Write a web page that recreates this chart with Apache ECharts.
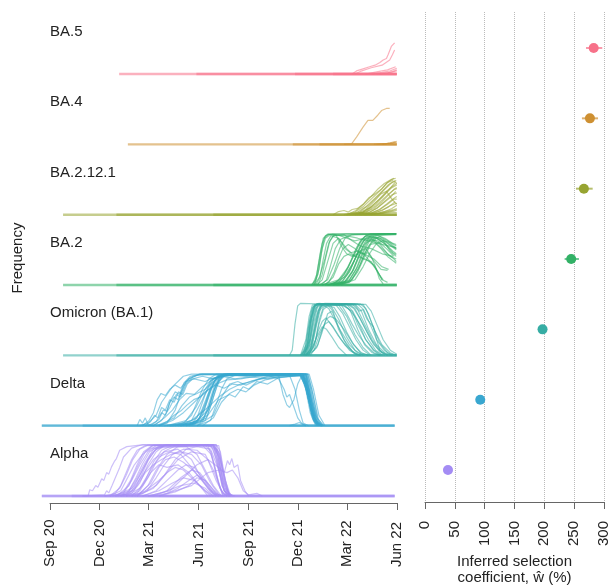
<!DOCTYPE html>
<html><head><meta charset="utf-8">
<script src="https://cdn.jsdelivr.net/npm/echarts@6/dist/echarts.min.js"></script>
<style>html,body{margin:0;padding:0;background:#fff}#c{width:611px;height:586px}</style>
</head><body><div id="c"></div>
<script>
// ---------- data ----------
const variants = ['Alpha', 'Delta', 'Omicron (BA.1)', 'BA.2', 'BA.2.12.1', 'BA.4', 'BA.5'];
const colors   = ['#a48cf4', '#39a7d0', '#36ada4', '#32b166', '#97a431', '#ce9032', '#f77189'];
// time axis: days since 2020-09-01
const tickDays   = [0, 91, 181, 273, 365, 456, 546, 638];
const tickLabels = ['Sep 20', 'Dec 20', 'Mar 21', 'Jun 21', 'Sep 21', 'Dec 21', 'Mar 22', 'Jun 22'];
// inferred selection coefficient (%) with interval
const coef   = [38.5, 92.6, 197, 245, 266.3, 276.4, 282.7];
const coefLo = [36.5, 90, 191, 234, 253, 263, 269.8];
const coefHi = [40.5, 95, 203, 258, 281, 290, 297.1];

// frequency at zero: spans [start, end] of countries' series (days)
const alphaBase   = [[-15, 633], [-15, 633], [40, 633]];
const deltaBase   = [[-15, 633], [-15, 633], [60, 633]];
const omicronBase = [[24, 637], [122, 637], [300, 637]];
const ba2Base     = [[24, 637], [122, 637], [300, 637]];
const ba2121Base  = [[24, 637], [122, 637], [300, 637]];
const ba4Base     = [[143, 637], [446, 637], [495, 637]];
const ba5Base     = [[127, 637], [269, 637], [450, 637], [520, 637]];

// per-country frequency trajectories [day, frequency]
const alphaCurves = [
  [[60,0],[70,0],[73,0.12],[78,0.1],[84,0.2],[88,0.17],[95,0.33],[99,0.3],[104,0.45],[108,0.42],[113,0.56],[118,0.66],[122,0.72],[128,0.88],[141,0.95],[165,0.98],[240,0.99],[290,0.99],[305,0.9],[318,0.3],[330,0.02],[340,0]],
  [[60,0],[100,0.02],[104,0.1],[108,0.06],[114,0.2],[120,0.35],[128,0.55],[135,0.75],[150,0.92],[170,0.99],[290,0.99],[300,0.9],[310,0.5],[320,0.1],[330,0]],
  [[100,0],[120,0.05],[130,0.2],[140,0.45],[150,0.7],[160,0.88],[175,0.97],[300,0.98],[308,0.7],[316,0.2],[325,0]],
  [[110,0],[135,0.05],[150,0.3],[165,0.6],[180,0.85],[195,0.97],[300,0.99],[312,0.8],[320,0.3],[330,0]],
  [[120,0],[140,0.03],[155,0.2],[170,0.5],[185,0.8],[200,0.95],[290,0.98],[302,0.6],[312,0.15],[322,0]],
  [[120,0],[150,0.05],[165,0.25],[180,0.6],[195,0.85],[210,0.97],[305,0.99],[315,0.6],[325,0.1],[335,0]],
  [[130,0],[160,0.05],[175,0.3],[190,0.65],[205,0.88],[225,0.97],[310,0.97],[318,0.5],[328,0.05],[338,0]],
  [[110,0],[130,0.1],[140,0.3],[155,0.6],[170,0.8],[185,0.92],[250,0.95],[270,0.8],[285,0.5],[300,0.2],[315,0]],
  [[130,0],[150,0.1],[170,0.4],[190,0.7],[210,0.85],[235,0.9],[260,0.7],[280,0.3],[300,0.05],[310,0]],
  [[150,0],[175,0.1],[200,0.3],[215,0.45],[230,0.55],[245,0.5],[265,0.3],[285,0.1],[300,0]],
  [[170,0],[200,0.1],[225,0.25],[245,0.35],[265,0.3],[280,0.15],[295,0]],
  [[180,0],[210,0.08],[240,0.2],[265,0.25],[285,0.15],[300,0]],
  [[140,0],[165,0.15],[185,0.5],[200,0.75],[220,0.85],[240,0.8],[260,0.55],[275,0.35],[290,0.15],[305,0]],
  [[160,0],[180,0.2],[195,0.5],[215,0.8],[235,0.95],[300,0.97],[310,0.85],[322,0.3],[330,0]],
  [[140,0],[170,0.05],[195,0.2],[215,0.45],[235,0.7],[260,0.85],[285,0.8],[300,0.5],[315,0.1],[325,0]],
  [[180,0],[220,0.1],[250,0.4],[270,0.6],[290,0.7],[310,0.55],[320,0.45],[326,0.68],[330,0.6],[334,0.72],[338,0.55],[345,0.6],[350,0.3],[358,0.1],[365,0]],
  [[200,0],[260,0.2],[290,0.45],[310,0.5],[325,0.45],[335,0.5],[345,0.35],[355,0.1],[365,0.02],[380,0.05],[390,0]],
  [[150,0],[170,0.2],[185,0.45],[200,0.6],[215,0.55],[235,0.6],[255,0.45],[275,0.2],[290,0]],
  [[120,0],[150,0.15],[165,0.4],[180,0.7],[195,0.9],[215,0.99],[305,0.99],[313,0.85],[322,0.3],[332,0]],
  [[190,0],[215,0.1],[240,0.35],[260,0.5],[275,0.45],[290,0.25],[305,0.05],[315,0]],
  [[100,0],[125,0.02],[145,0.2],[160,0.55],[175,0.85],[190,0.98],[300,0.99],[310,0.75],[320,0.15],[330,0]],
  [[160,0],[190,0.15],[210,0.4],[230,0.7],[250,0.9],[270,0.95],[295,0.9],[310,0.5],[320,0.1],[330,0]],
  [[130,0],[145,0.1],[160,0.35],[175,0.65],[190,0.9],[210,0.98],[280,0.98],[296,0.8],[308,0.3],[318,0]],
  [[200,0],[230,0.08],[255,0.2],[270,0.35],[285,0.3],[300,0.12],[312,0]],
  [[115,0],[135,0.08],[148,0.3],[160,0.6],[172,0.85],[188,0.97],[298,0.98],[308,0.8],[318,0.25],[328,0]],
  [[125,0],[145,0.1],[158,0.35],[170,0.62],[183,0.85],[200,0.96],[296,0.97],[306,0.7],[316,0.2],[326,0]],
  [[135,0],[155,0.12],[168,0.4],[180,0.68],[193,0.88],[212,0.97],[303,0.98],[312,0.7],[322,0.15],[332,0]],
  [[145,0],[165,0.1],[180,0.35],[195,0.65],[210,0.86],[230,0.96],[300,0.97],[310,0.6],[320,0.1],[330,0]],
  [[155,0],[178,0.1],[195,0.35],[210,0.6],[225,0.8],[245,0.9],[270,0.88],[290,0.7],[305,0.3],[318,0.05],[328,0]],
  [[170,0],[195,0.1],[215,0.3],[235,0.5],[250,0.6],[265,0.55],[280,0.35],[295,0.12],[308,0]],
  [[185,0],[215,0.05],[235,0.15],[255,0.3],[270,0.4],[285,0.3],[298,0.1],[310,0]],
  [[110,0],[128,0.15],[140,0.4],[152,0.7],[165,0.9],[180,0.98],[285,0.98],[296,0.85],[306,0.4],[316,0.05],[325,0]],
  [[160,0],[185,0.25],[200,0.55],[212,0.7],[228,0.75],[245,0.65],[262,0.5],[280,0.3],[295,0.08],[305,0]],
  [[140,0],[160,0.2],[175,0.45],[190,0.6],[205,0.7],[222,0.8],[240,0.85],[260,0.8],[278,0.6],[295,0.25],[310,0.03],[320,0]]
];
const deltaCurves = [
  [[160,0],[165,0.12],[170,0.05],[175,0.15],[180,0.02],[190,0]],
  [[165,0],[180,0.05],[195,0.2],[205,0.45],[215,0.6],[225,0.75],[235,0.85],[245,0.95],[260,0.99],[460,0.99],[470,0.8],[480,0.3],[490,0.05],[500,0]],
  [[180,0],[195,0.08],[205,0.25],[212,0.2],[220,0.45],[228,0.55],[235,0.5],[245,0.75],[255,0.9],[270,0.97],[300,0.98],[340,0.9],[360,0.93],[400,0.97],[465,0.98],[475,0.6],[485,0.15],[495,0]],
  [[190,0],[205,0.1],[220,0.35],[232,0.6],[240,0.55],[250,0.8],[262,0.93],[275,0.99],[462,0.99],[472,0.7],[482,0.2],[492,0]],
  [[200,0],[215,0.05],[230,0.3],[240,0.6],[250,0.85],[262,0.95],[280,0.99],[470,0.99],[478,0.75],[488,0.2],[498,0]],
  [[210,0],[245,0.05],[260,0.2],[270,0.45],[280,0.7],[292,0.9],[305,0.99],[465,0.99],[475,0.65],[485,0.15],[495,0]],
  [[220,0],[260,0.03],[275,0.15],[285,0.4],[295,0.7],[305,0.9],[318,0.99],[468,0.99],[478,0.6],[490,0.1],[500,0]],
  [[220,0],[265,0.02],[280,0.2],[290,0.5],[300,0.8],[310,0.95],[322,0.99],[472,0.99],[482,0.5],[492,0.08],[502,0]],
  [[240,0],[275,0.05],[290,0.3],[300,0.65],[310,0.88],[320,0.97],[330,0.99],[460,0.99],[470,0.85],[480,0.35],[490,0.05],[500,0]],
  [[240,0],[280,0.08],[292,0.35],[302,0.7],[312,0.93],[325,0.99],[476,0.99],[484,0.7],[494,0.2],[505,0]],
  [[250,0],[285,0.1],[296,0.4],[306,0.75],[316,0.95],[330,0.99],[470,0.99],[480,0.5],[488,0.1],[498,0]],
  [[220,0],[260,0.1],[290,0.35],[310,0.55],[330,0.7],[350,0.8],[370,0.85],[390,0.92],[420,0.97],[460,0.98],[470,0.7],[482,0.2],[495,0]],
  [[250,0],[290,0.2],[310,0.5],[330,0.6],[340,0.55],[355,0.75],[365,0.7],[380,0.85],[400,0.8],[420,0.92],[440,0.95],[465,0.97],[475,0.6],[485,0.1],[495,0]],
  [[230,0],[260,0.1],[280,0.5],[295,0.85],[310,0.97],[400,0.97],[420,0.9],[430,0.7],[435,0.55],[440,0.6],[445,0.45],[450,0.3],[455,0.15],[462,0.05],[470,0]],
  [[240,0],[270,0.15],[285,0.6],[300,0.9],[320,0.98],[420,0.97],[428,0.6],[435,0.4],[440,0.35],[448,0.5],[455,0.8],[462,0.95],[470,0.9],[480,0.3],[490,0]],
  [[260,0],[290,0.3],[305,0.8],[320,0.97],[440,0.97],[450,0.7],[458,0.3],[465,0.05],[475,0]],
  [[270,0],[300,0.2],[315,0.55],[330,0.8],[345,0.85],[360,0.78],[380,0.88],[400,0.95],[465,0.97],[475,0.5],[487,0.05],[497,0]],
  [[440,0],[450,0.03],[458,0.06],[465,0.02],[470,0]],
  [[190,0],[210,0.15],[225,0.3],[238,0.5],[250,0.62],[265,0.6],[280,0.75],[300,0.9],[320,0.97],[466,0.98],[476,0.7],[486,0.15],[496,0]],
  [[200,0],[225,0.1],[245,0.25],[265,0.45],[285,0.65],[305,0.8],[325,0.88],[350,0.9],[380,0.95],[470,0.97],[480,0.4],[490,0.05],[500,0]],
  [[185,0],[200,0.12],[208,0.3],[215,0.28],[222,0.5],[230,0.65],[238,0.6],[246,0.82],[258,0.95],[275,0.99],[458,0.99],[468,0.8],[478,0.25],[488,0]],
  [[230,0],[270,0.08],[283,0.3],[294,0.65],[304,0.9],[316,0.98],[466,0.99],[476,0.55],[486,0.1],[496,0]],
  [[235,0],[272,0.1],[286,0.45],[296,0.78],[308,0.95],[322,0.99],[474,0.99],[483,0.6],[493,0.12],[503,0]],
  [[245,0],[282,0.12],[294,0.5],[303,0.8],[314,0.96],[328,0.99],[463,0.99],[473,0.7],[483,0.2],[493,0]],
  [[215,0],[250,0.1],[268,0.35],[282,0.65],[296,0.88],[312,0.97],[469,0.98],[479,0.5],[489,0.08],[499,0]],
  [[200,0],[228,0.15],[242,0.38],[256,0.55],[270,0.62],[285,0.7],[300,0.85],[318,0.95],[340,0.97],[467,0.98],[477,0.45],[488,0.05],[498,0]],
  [[255,0],[288,0.15],[300,0.55],[310,0.85],[322,0.97],[340,0.99],[471,0.99],[481,0.45],[491,0.05],[501,0]],
  [[270,0],[295,0.1],[305,0.4],[315,0.7],[325,0.9],[340,0.97],[400,0.9],[420,0.95],[464,0.97],[474,0.6],[484,0.1],[494,0]],
  [[280,0],[300,0.15],[315,0.45],[330,0.62],[345,0.7],[360,0.65],[375,0.78],[395,0.88],[420,0.93],[460,0.96],[470,0.75],[480,0.25],[492,0]],
  [[225,0],[262,0.06],[278,0.28],[290,0.6],[302,0.86],[316,0.97],[473,0.99],[481,0.7],[491,0.15],[501,0]],
  [[175,0],[185,0.08],[192,0.2],[198,0.15],[205,0.35],[212,0.3],[220,0.5],[228,0.45],[236,0.65],[244,0.6],[252,0.8],[262,0.9],[280,0.95],[300,0.9],[320,0.96],[462,0.98],[472,0.65],[482,0.15],[492,0]],
  [[170,0],[182,0.1],[190,0.25],[197,0.5],[204,0.62],[212,0.58],[220,0.7],[230,0.78],[240,0.72],[250,0.85],[265,0.9],[285,0.85],[300,0.92],[330,0.96],[460,0.97],[470,0.75],[480,0.25],[490,0]],
  [[195,0],[215,0.08],[228,0.2],[240,0.28],[252,0.4],[264,0.5],[276,0.55],[290,0.68],[305,0.78],[320,0.72],[335,0.8],[350,0.78],[370,0.86],[400,0.92],[464,0.96],[474,0.55],[484,0.1],[494,0]]
];
const omicronCurves = [
  [[440,0],[445,0.1],[450,0.6],[455,0.95],[460,1.0],[520,0.98],[540,0.95],[555,0.85],[565,0.6],[580,0.3],[595,0.1],[610,0]],
  [[460,0],[468,0.1],[474,0.5],[480,0.85],[486,0.98],[560,0.99],[572,0.85],[585,0.5],[600,0.2],[615,0.05],[630,0]],
  [[462,0],[472,0.15],[478,0.6],[484,0.9],[490,0.99],[550,0.98],[560,0.9],[575,0.6],[590,0.3],[605,0.08],[620,0]],
  [[465,0],[476,0.2],[482,0.6],[488,0.9],[495,0.99],[540,0.98],[552,0.85],[565,0.5],[578,0.2],[592,0.05],[605,0]],
  [[468,0],[478,0.1],[486,0.5],[492,0.85],[500,0.98],[530,0.97],[545,0.75],[560,0.4],[575,0.15],[590,0]],
  [[470,0],[480,0.15],[488,0.55],[495,0.9],[502,0.99],[515,0.97],[530,0.7],[545,0.35],[560,0.1],[575,0]],
  [[470,0],[485,0.1],[495,0.4],[505,0.6],[512,0.65],[520,0.55],[535,0.3],[550,0.1],[565,0]],
  [[475,0],[490,0.15],[500,0.45],[510,0.8],[518,0.85],[528,0.6],[540,0.3],[555,0.08],[570,0]],
  [[472,0],[482,0.2],[490,0.6],[498,0.95],[505,1.0],[570,0.99],[580,0.9],[592,0.6],[605,0.25],[620,0.05],[636,0]],
  [[470,0],[480,0.25],[488,0.7],[496,0.95],[560,0.97],[568,0.85],[575,0.88],[582,0.7],[588,0.62],[594,0.55],[600,0.3],[606,0.1],[615,0]],
  [[466,0],[474,0.2],[480,0.7],[486,0.95],[494,1.0],[525,0.97],[538,0.8],[550,0.55],[562,0.3],[575,0.1],[588,0]],
  [[475,0],[488,0.3],[495,0.7],[502,0.92],[510,0.97],[520,0.85],[530,0.5],[545,0.2],[560,0.03],[570,0]],
  [[478,0],[492,0.2],[500,0.5],[508,0.7],[515,0.75],[525,0.7],[540,0.5],[555,0.25],[570,0.05],[585,0]],
  [[460,0],[470,0.3],[476,0.75],[482,0.97],[575,0.98],[585,0.8],[595,0.5],[610,0.2],[625,0.05],[636,0]],
  [[470,0],[480,0.1],[490,0.35],[500,0.55],[508,0.5],[518,0.35],[530,0.15],[545,0]],
  [[467,0],[477,0.3],[484,0.8],[490,0.98],[545,0.99],[558,0.9],[570,0.7],[582,0.45],[595,0.2],[610,0.05],[625,0]],
  [[463,0],[473,0.25],[480,0.75],[487,0.97],[535,0.98],[548,0.9],[560,0.75],[572,0.55],[585,0.3],[598,0.1],[612,0]],
  [[464,0],[472,0.2],[478,0.65],[484,0.93],[492,0.99],[555,0.99],[565,0.88],[578,0.6],[592,0.3],[606,0.1],[620,0]],
  [[466,0],[475,0.25],[481,0.7],[487,0.95],[496,0.99],[545,0.98],[556,0.85],[568,0.6],[580,0.3],[594,0.1],[606,0]],
  [[468,0],[477,0.2],[484,0.6],[491,0.92],[500,0.99],[565,0.99],[576,0.88],[588,0.6],[600,0.3],[614,0.1],[628,0]],
  [[471,0],[480,0.2],[487,0.55],[494,0.85],[503,0.96],[512,0.9],[522,0.7],[535,0.45],[550,0.2],[565,0.05],[578,0]],
  [[473,0],[484,0.15],[492,0.45],[500,0.65],[507,0.72],[516,0.6],[528,0.4],[542,0.2],[558,0.05],[570,0]],
  [[461,0],[470,0.2],[476,0.6],[482,0.92],[490,0.99],[580,0.98],[590,0.85],[600,0.6],[612,0.3],[625,0.1],[637,0.02]],
  [[469,0],[478,0.3],[485,0.75],[492,0.97],[535,0.97],[545,0.8],[555,0.6],[566,0.4],[580,0.2],[595,0.05],[608,0]],
  [[474,0],[486,0.2],[494,0.6],[502,0.88],[510,0.95],[522,0.92],[532,0.75],[545,0.45],[558,0.2],[572,0.05],[585,0]]
];
const ba2Curves = [
  [[480,0],[488,0.1],[495,0.5],[500,0.8],[506,0.95],[520,0.99],[636,0.99]],
  [[482,0],[490,0.2],[496,0.6],[502,0.9],[510,0.98],[525,0.97],[535,0.75],[545,0.6],[555,0.55],[565,0.6],[575,0.5],[590,0.45],[600,0.3],[610,0.1],[620,0.05]],
  [[485,0],[495,0.15],[505,0.5],[512,0.8],[520,0.95],[540,0.97],[555,0.85],[570,0.75],[590,0.7],[610,0.6],[630,0.55]],
  [[490,0],[500,0.1],[510,0.45],[520,0.8],[530,0.9],[545,0.7],[560,0.55],[580,0.5],[595,0.38],[605,0.2],[612,0.1]],
  [[495,0],[510,0.1],[522,0.4],[532,0.7],[542,0.9],[555,0.97],[636,0.98]],
  [[505,0],[525,0.05],[540,0.2],[552,0.45],[562,0.7],[572,0.88],[582,0.95],[600,0.9],[615,0.8],[630,0.65],[636,0.6]],
  [[510,0],[530,0.05],[545,0.2],[558,0.45],[568,0.7],[578,0.88],[590,0.9],[605,0.8],[620,0.6],[632,0.5],[636,0.45]],
  [[510,0],[535,0.05],[550,0.25],[562,0.55],[572,0.8],[582,0.92],[595,0.97],[636,0.98]],
  [[515,0],[540,0.05],[555,0.25],[565,0.5],[575,0.75],[585,0.88],[595,0.85],[610,0.7],[625,0.55],[636,0.5]],
  [[520,0],[545,0.08],[558,0.3],[570,0.6],[580,0.8],[590,0.87],[602,0.85],[618,0.7],[632,0.55]],
  [[500,0],[530,0.1],[548,0.35],[560,0.6],[570,0.82],[580,0.95],[590,0.99],[636,0.99]],
  [[520,0],[550,0.1],[565,0.35],[577,0.65],[587,0.85],[598,0.92],[612,0.88],[628,0.75],[636,0.7]],
  [[515,0],[540,0.15],[555,0.4],[568,0.65],[580,0.7],[590,0.55],[598,0.35],[605,0.12],[612,0.02]],
  [[525,0],[550,0.05],[565,0.25],[578,0.55],[590,0.8],[600,0.9],[612,0.85],[625,0.65],[636,0.55]],
  [[505,0],[520,0.15],[530,0.4],[540,0.55],[550,0.6],[560,0.55],[570,0.65],[580,0.55],[592,0.4],[602,0.25],[610,0.1]],
  [[530,0],[555,0.1],[570,0.4],[582,0.7],[594,0.88],[606,0.93],[620,0.85],[636,0.7]],
  [[486,0],[494,0.3],[500,0.7],[506,0.9],[515,0.97],[540,0.95],[560,0.97],[636,0.99]],
  [[512,0],[538,0.08],[552,0.3],[565,0.6],[576,0.84],[588,0.94],[600,0.96],[615,0.9],[630,0.8],[636,0.78]],
  [[484,0],[492,0.2],[498,0.6],[504,0.9],[512,0.98],[530,0.96],[545,0.9],[560,0.85],[580,0.9],[600,0.95],[636,0.97]],
  [[488,0],[496,0.15],[502,0.5],[508,0.8],[516,0.95],[530,0.9],[542,0.7],[552,0.62],[565,0.65],[580,0.58],[595,0.5],[610,0.35],[622,0.3]],
  [[492,0],[500,0.2],[507,0.55],[514,0.85],[522,0.96],[545,0.98],[580,0.98],[636,0.99]],
  [[498,0],[508,0.1],[516,0.4],[524,0.7],[534,0.88],[548,0.94],[565,0.9],[585,0.85],[610,0.78],[636,0.72]],
  [[500,0],[512,0.05],[522,0.25],[530,0.5],[538,0.7],[548,0.78],[560,0.7],[572,0.6],[584,0.62],[596,0.45],[608,0.3],[620,0.28]],
  [[518,0],[542,0.06],[556,0.28],[568,0.58],[578,0.82],[588,0.92],[600,0.9],[616,0.78],[630,0.62],[636,0.58]],
  [[522,0],[548,0.06],[562,0.3],[574,0.62],[584,0.84],[594,0.93],[606,0.9],[620,0.8],[636,0.68]],
  [[508,0],[532,0.08],[546,0.3],[558,0.58],[568,0.8],[578,0.93],[590,0.97],[636,0.98]],
  [[528,0],[552,0.08],[566,0.3],[578,0.6],[588,0.78],[598,0.8],[608,0.7],[620,0.55],[632,0.45],[636,0.42]],
  [[535,0],[560,0.1],[575,0.35],[588,0.62],[600,0.8],[612,0.85],[625,0.82],[636,0.75]]
];
const ba2121Curves = [
  [[540,0],[560,0.05],[575,0.15],[590,0.3],[605,0.45],[618,0.6],[628,0.68],[635,0.7]],
  [[545,0],[565,0.05],[580,0.15],[595,0.3],[610,0.45],[622,0.58],[632,0.65],[637,0.6]],
  [[550,0],[575,0.05],[590,0.15],[605,0.3],[618,0.45],[630,0.55],[637,0.6]],
  [[555,0],[580,0.05],[595,0.12],[610,0.25],[622,0.38],[633,0.5],[637,0.52]],
  [[560,0],[585,0.04],[600,0.12],[612,0.22],[625,0.33],[635,0.45]],
  [[565,0],[590,0.03],[605,0.1],[618,0.2],[630,0.3],[637,0.35]],
  [[570,0],[595,0.03],[610,0.08],[622,0.15],[634,0.25]],
  [[575,0],[600,0.02],[615,0.06],[628,0.12],[637,0.18]],
  [[580,0],[610,0.03],[625,0.07],[637,0.1]],
  [[520,0],[530,0.06],[540,0.08],[548,0.05],[555,0.1],[565,0.12],[575,0.2],[585,0.32],[597,0.4],[610,0.5],[620,0.62],[630,0.66]],
  [[560,0],[580,0.1],[595,0.25],[608,0.4],[618,0.45],[628,0.3],[637,0.2]],
  [[585,0],[605,0.02],[620,0.05],[637,0.08]],
  [[565,0],[582,0.08],[598,0.2],[612,0.35],[624,0.5],[634,0.62]],
  [[590,0],[615,0.03],[630,0.05],[637,0.04]],
  [[548,0],[570,0.06],[585,0.18],[600,0.33],[614,0.48],[626,0.6],[636,0.66]],
  [[552,0],[574,0.05],[588,0.14],[602,0.27],[616,0.4],[628,0.52],[637,0.57]],
  [[558,0],[582,0.06],[597,0.16],[610,0.28],[622,0.4],[632,0.48],[637,0.5]],
  [[562,0],[588,0.05],[602,0.14],[615,0.26],[628,0.38],[637,0.42]],
  [[568,0],[592,0.04],[606,0.1],[620,0.2],[632,0.3],[637,0.3]],
  [[572,0],[598,0.04],[612,0.1],[626,0.18],[637,0.22]],
  [[545,0],[562,0.08],[576,0.2],[590,0.35],[603,0.5],[614,0.6],[624,0.66],[632,0.7]],
  [[578,0],[602,0.03],[618,0.07],[632,0.1],[637,0.12]]
];
const ba4Curves = [
  [[540,0],[554,0.01],[563,0.14],[575,0.33],[584,0.46],[593,0.46],[602,0.56],[609,0.65],[618,0.69],[624,0.69]],
  [[600,0],[615,0.01],[625,0.03],[632,0.05],[637,0.03]],
  [[610,0],[625,0.02],[635,0.04]],
  [[595,0],[620,0.02],[630,0.03],[637,0.06]]
];
const ba5Curves = [
  [[555,0],[563,0.06],[575,0.1],[587,0.14],[597,0.17],[606,0.22],[612,0.27],[618,0.3],[621,0.37],[624,0.34],[627,0.53],[630,0.55],[633,0.6]],
  [[560,0],[570,0.05],[590,0.12],[610,0.17],[624,0.27],[629,0.37],[633,0.46]],
  [[580,0],[600,0.04],[620,0.08],[635,0.14]],
  [[590,0],[610,0.03],[625,0.06],[637,0.11]],
  [[605,0],[625,0.03],[637,0.06]],
  [[600,0],[620,0.02],[630,0.05],[637,0.08]]
];

const curveSets = [alphaCurves, deltaCurves, omicronCurves, ba2Curves, ba2121Curves, ba4Curves, ba5Curves];
const baseSets  = [alphaBase, deltaBase, omicronBase, ba2Base, ba2121Base, ba4Base, ba5Base];

// ---------- layout ----------
const FONT = '"Liberation Sans", Arial, Helvetica, sans-serif';
const X0 = 50, PXD = 0.5444;          // px of day 0, px per day
const DMIN = -15, DMAX = 640;
const BASE0 = 496, STEP = 70.33, ROWH = 52;
const AXY = 503;                       // left x-axis line

const grids = [], xAxes = [], yAxes = [], series = [], graphics = [];
variants.forEach((v, k) => {
  const base = BASE0 - k * STEP;
  grids.push({left: X0 + DMIN * PXD, width: (DMAX - DMIN) * PXD, top: base - ROWH * 1.05, height: ROWH * 1.15, outerBoundsMode: 'none', containLabel: false});
  xAxes.push({type: 'value', gridIndex: k, min: DMIN, max: DMAX, show: false});
  yAxes.push({type: 'value', gridIndex: k, min: -0.1, max: 1.05, show: false});
  baseSets[k].forEach(s => series.push({
    type: 'line', xAxisIndex: k, yAxisIndex: k, data: [[s[0], 0], [s[1], 0]],
    symbol: 'none', silent: true, lineStyle: {color: colors[k], width: 2.4, opacity: 0.55}
  }));
  curveSets[k].forEach(c => series.push({
    type: 'line', xAxisIndex: k, yAxisIndex: k, data: c,
    symbol: 'none', silent: true, lineStyle: {color: colors[k], width: 1.2, opacity: 0.55}
  }));
  graphics.push({type: 'text', x: 50, y: base - 42,
    style: {text: v, fontSize: 15, fontFamily: FONT, fill: '#222', verticalAlign: 'middle', align: 'left'}});
});

// left date axis grid (index 7)
grids.push({left: X0, width: 638 * PXD, top: 10, height: AXY - 10, outerBoundsMode: 'none', containLabel: false});
xAxes.push({type: 'value', gridIndex: 7, min: 0, max: 638,
  axisLine: {show: true, onZero: false, lineStyle: {color: '#666', width: 1}},
  axisTick: {show: true, length: 7, customValues: tickDays, lineStyle: {color: '#666'}},
  axisLabel: {customValues: tickDays, rotate: 90, align: 'left', margin: 64, fontSize: 15, fontFamily: FONT, color: '#222',
    formatter: val => tickLabels[tickDays.indexOf(val)] || ''},
  splitLine: {show: false}});
yAxes.push({type: 'value', gridIndex: 7, min: 0, max: 1, show: false});

// right panel grid (index 8)
const RB = 502;
grids.push({left: 425, width: 179, top: 12, height: RB - 12, outerBoundsMode: 'none', containLabel: false});
xAxes.push({type: 'value', gridIndex: 8, min: 0, max: 300, interval: 50,
  axisLine: {show: true, onZero: false, lineStyle: {color: '#666', width: 1}},
  axisTick: {show: true, length: 7, lineStyle: {color: '#666'}},
  axisLabel: {rotate: 90, margin: 19, fontSize: 15, fontFamily: FONT, color: '#222'},
  splitLine: {show: true, lineStyle: {type: 'dotted', color: '#bbb', width: 1}},
  name: 'Inferred selection\ncoefficient, ŵ (%)', nameLocation: 'middle', nameGap: 51,
  nameTextStyle: {fontSize: 15, fontFamily: FONT, color: '#222', lineHeight: 16}});
const yMin = -(RB - (BASE0 - ROWH / 2)) / STEP;
yAxes.push({type: 'value', gridIndex: 8, min: yMin, max: yMin + (RB - 12) / STEP, show: false});

series.push({
  type: 'custom', xAxisIndex: 8, yAxisIndex: 8,
  data: variants.map((v, i) => [coefLo[i], coefHi[i], i]),
  encode: {x: [0, 1], y: 2},
  renderItem: (params, api) => {
    const p1 = api.coord([api.value(0), api.value(2)]);
    const p2 = api.coord([api.value(1), api.value(2)]);
    return {type: 'line', shape: {x1: p1[0], y1: p1[1], x2: p2[0], y2: p2[1]},
      style: {stroke: colors[params.dataIndex], lineWidth: 2, opacity: 0.7}};
  },
  silent: true
});
series.push({
  type: 'scatter', xAxisIndex: 8, yAxisIndex: 8, symbolSize: 10, silent: true,
  data: coef.map((c, i) => ({value: [c, i], itemStyle: {color: colors[i], opacity: 1}}))
});

graphics.push({type: 'text', x: 18, y: 258, rotation: Math.PI / 2,
  style: {text: 'Frequency', fontSize: 15, fontFamily: FONT, fill: '#222', align: 'center', verticalAlign: 'middle'}});

const chart = echarts.init(document.getElementById('c'), null, {renderer: 'canvas'});
chart.setOption({
  animation: false,
  backgroundColor: '#fff',
  grid: grids, xAxis: xAxes, yAxis: yAxes, series: series, graphic: graphics
});
</script></body></html>
